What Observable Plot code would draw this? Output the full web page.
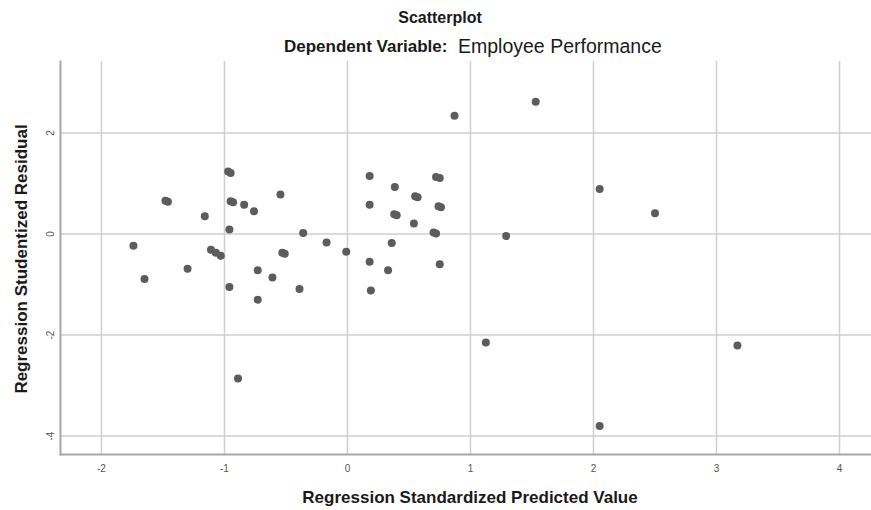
<!DOCTYPE html>
<html><head><meta charset="utf-8">
<script src="https://cdn.jsdelivr.net/npm/d3@7"></script>
<script src="https://cdn.jsdelivr.net/npm/@observablehq/plot@0.6"></script>
<style>
body{margin:0;background:#fff;font-family:"Liberation Sans",Arial,sans-serif;}
#wrap{width:871px;}
#titles{position:relative;height:60px;}
.t{position:absolute;white-space:nowrap;color:#1a1a1a;line-height:1.15;}
</style></head><body>
<div id="wrap">
<div id="titles">
<span class="t" style="left:440px;top:9px;font-weight:bold;font-size:16px;transform:translateX(-50%)">Scatterplot</span>
<span class="t" style="left:284px;top:37px;font-weight:bold;font-size:17px">Dependent Variable:</span>
<span class="t" style="left:458px;top:35px;font-size:19.5px">Employee Performance</span>
</div>
<div id="chart"></div>
</div>
<script>
const predicted = [
  -1.74,-1.65,-1.48,-1.46,-1.30,-1.16,-1.11,-1.07,-1.03,-0.97,
  -0.95,-0.95,-0.93,-0.96,-0.96,-0.89,-0.84,-0.76,-0.73,-0.73,
  -0.61,-0.545,-0.53,-0.51,-0.39,-0.36,-0.17,-0.01,0.18,0.18,
  0.18,0.19,0.33,0.36,0.38,0.40,0.385,0.54,0.55,0.57,
  0.70,0.72,0.72,0.75,0.74,0.76,0.75,0.87,1.125,1.29,
  1.53,2.05,2.05,2.50,3.17
];
const residual = [
  -0.23,-0.89,0.66,0.64,-0.69,0.35,-0.31,-0.37,-0.43,1.24,
  1.21,0.65,0.63,0.09,-1.05,-2.86,0.58,0.45,-0.72,-1.30,
  -0.86,0.78,-0.37,-0.39,-1.09,0.02,-0.17,-0.35,1.15,0.58,
  -0.55,-1.12,-0.72,-0.18,0.39,0.37,0.93,0.21,0.75,0.73,
  0.03,0.01,1.13,1.11,0.55,0.53,-0.60,2.34,-2.15,-0.04,
  2.62,0.89,-3.80,0.41,-2.21
];
const xTicks = [-2,-1,0,1,2,3,4];
const yTicks = [-4,-2,0,2];
const xTitle = "Regression Standardized Predicted Value";
const yTitle = "Regression Studentized Residual";

const points = predicted.map((x, i) => ({x, y: residual[i]}));
const font = "'Liberation Sans', Arial, sans-serif";

const chart = Plot.plot({
  width: 871,
  height: 450,
  marginTop: 1,
  marginBottom: 56,
  marginLeft: 60,
  marginRight: 0,
  style: {fontFamily: font, background: "#fff"},
  x: {domain: [-2.333, 4.26], axis: null},
  y: {domain: [-4.366, 3.416], axis: null},
  marks: [
    Plot.ruleX(xTicks, {x: d => d, stroke: "#cfcfcf", strokeWidth: 1.5}),
    Plot.ruleY(yTicks, {y: d => d, stroke: "#cfcfcf", strokeWidth: 1.5}),
    Plot.frame({anchor: "left", stroke: "#a8a8a8", strokeWidth: 2}),
    Plot.frame({anchor: "bottom", stroke: "#a8a8a8", strokeWidth: 2}),
    Plot.dot(points, {x: "x", y: "y", r: 4, fill: "#5c5c5c", stroke: "none"}),
    Plot.text(xTicks, {x: d => d, frameAnchor: "bottom", dy: 14, text: d => String(d), fontSize: 10, fill: "#555", lineAnchor: "middle"}),
    Plot.text(yTicks, {y: d => d, frameAnchor: "left", dx: -10, text: d => String(d), fontSize: 10, fill: "#555", rotate: -90, lineAnchor: "middle", textAnchor: "middle"}),
    Plot.text([xTitle], {frameAnchor: "bottom", dx: 4, dy: 43, text: d => d, fontSize: 17, fontWeight: "bold", fill: "#1a1a1a", lineAnchor: "middle"}),
    Plot.text([yTitle], {frameAnchor: "left", dx: -39, dy: 1, text: d => d, fontSize: 17, fontWeight: "bold", fill: "#1a1a1a", rotate: -90, lineAnchor: "middle", textAnchor: "middle"})
  ]
});
document.getElementById("chart").appendChild(chart);
</script>
</body></html>
